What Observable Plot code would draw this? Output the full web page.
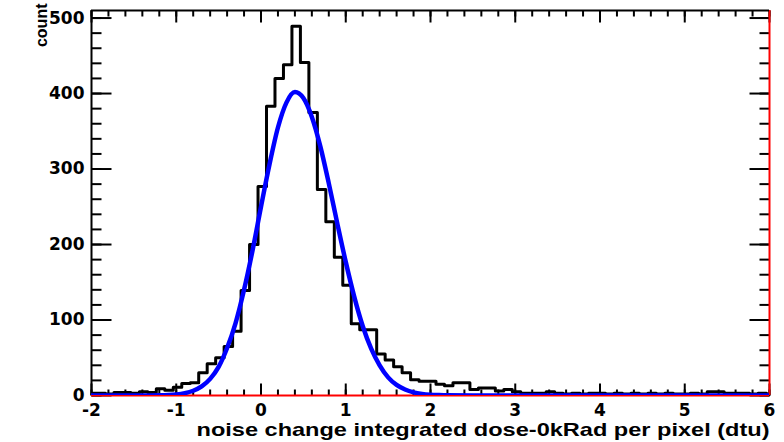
<!DOCTYPE html>
<html>
<head>
<meta charset="utf-8">
<script src="https://cdn.jsdelivr.net/npm/d3@7"></script>
<script src="https://cdn.jsdelivr.net/npm/@observablehq/plot@0.6"></script>
<style>
  html, body { margin: 0; padding: 0; background: #fff; }
  #chart { width: 784px; height: 442px; }
</style>
</head>
<body>
<div id="chart"></div>
<script>
// ---- data ----
const xDomain = [-2, 6];
const yDomain = [0, 510];
const xLabel = "noise change integrated dose-0kRad per pixel (dtu)";
const yLabel = "count";

// histogram: 81 bins of width 0.1, first lower edge at -2.035
const binStart = -2.035;
const binWidth = 0.1;
const counts = [
  3, 3, 2, 4, 4, 3, 5, 4, 9, 7,
  11, 16, 17, 30, 42, 50, 65, 85, 139, 200,
  277, 383, 420, 438, 489, 441, 375, 273, 230, 183,
  146, 95, 87, 87, 55, 47, 38, 30, 21, 19,
  19, 15, 13, 17, 17, 8, 10, 10, 6, 8,
  5, 3, 3, 3, 5, 3, 2, 3, 2, 3,
  3, 2, 3, 2, 3, 2, 3, 2, 3, 2,
  2, 3, 2, 5, 5, 3, 3, 3, 2, 3,
  2
];

// fitted curve, points
const fitX = [-2, -1.6, -1.4, -1.2, -1.1, -1.0, -0.9, -0.8, -0.7, -0.6, -0.5, -0.4, -0.3, -0.2, -0.1,
  0, 0.1, 0.2, 0.3, 0.4, 0.5, 0.6, 0.7, 0.8, 0.9, 1.0, 1.1, 1.2, 1.3, 1.4, 1.5, 1.6, 1.7, 1.8, 1.9,
  2.0, 2.1, 2.2, 2.5, 3, 4, 5, 6];
const fitY = [0, 0, 0, 0.25, 0.6, 1.4, 3.1, 6.3, 12, 22, 38, 63, 96, 140, 192,
  250, 306, 355, 388, 402, 394, 369, 330, 281, 228, 177, 131, 92, 62, 40, 24, 14, 8, 4.2, 2.1,
  1.0, 0.5, 0.2, 0, 0, 0, 0, 0];

const xMajor = [-2, -1, 0, 1, 2, 3, 4, 5, 6];
const yMajor = [0, 100, 200, 300, 400, 500];
const xMinor = d3.range(0, 41).map(i => -2 + i * 0.2);
const yMinor = d3.range(0, 26).map(i => i * 20);

// ---- layout ----
const W = 784, H = 442;
const mL = 91, mR = 15, mT = 10, mB = 47;
const fw = W - mL - mR, fh = H - mT - mB;
const xPerPx = (xDomain[1] - xDomain[0]) / fw;
const yPerPx = (yDomain[1] - yDomain[0]) / fh;

// ---- build tables ----
const histPts = [];
counts.forEach((c, i) => {
  const lo = binStart + i * binWidth;
  histPts.push({x: lo, y: c}, {x: lo + binWidth, y: c});
});
const fitPts = fitX.map((x, i) => ({x, y: fitY[i]}));

// inward tick segments (lengths in pixels converted through the scale factor)
const tickSegs = [];
const addX = (vals, len) => vals.forEach(v => {
  tickSegs.push({x1: v, x2: v, y1: yDomain[0], y2: yDomain[0] + len * yPerPx});
  tickSegs.push({x1: v, x2: v, y1: yDomain[1], y2: yDomain[1] - len * yPerPx});
});
const addY = (vals, len) => vals.forEach(v => {
  tickSegs.push({y1: v, y2: v, x1: xDomain[0], x2: xDomain[0] + len * xPerPx});
  tickSegs.push({y1: v, y2: v, x1: xDomain[1], x2: xDomain[1] - len * xPerPx});
});
addX(xMinor, 6);
addX(xMajor, 12);
addY(yMinor, 10);
addY(yMajor, 20);

const chart = Plot.plot({
  width: W,
  height: H,
  marginLeft: mL,
  marginRight: mR,
  marginTop: mT,
  marginBottom: mB,
  x: {domain: xDomain, label: null},
  y: {domain: yDomain, label: null},
  style: {fontFamily: "DejaVu Sans", fontWeight: "bold", fontSize: "17px", color: "#000", background: "#fff"},
  marks: [
    Plot.link(tickSegs, {x1: "x1", y1: "y1", x2: "x2", y2: "y2", stroke: "#000", strokeWidth: 2}),
    Plot.line(histPts, {x: "x", y: "y", stroke: "#000", strokeWidth: 3, clip: true}),
    Plot.ruleY([yDomain[0]], {stroke: "#ff0000", strokeWidth: 2}),
    Plot.ruleX([xDomain[1]], {stroke: "#ff0000", strokeWidth: 2}),
    Plot.ruleX([xDomain[0]], {stroke: "#000", strokeWidth: 2}),
    Plot.ruleY([yDomain[1]], {stroke: "#000", strokeWidth: 2}),
    Plot.line(fitPts, {x: "x", y: "y", stroke: "#0000ff", strokeWidth: 4.5, curve: "monotone-x", clip: true}),
    // tick labels
    Plot.axisX({anchor: "bottom", ticks: xMajor, tickSize: 0, tickPadding: 8, tickFormat: d => `${d}`}),
    Plot.axisY({anchor: "left", ticks: yMajor, tickSize: 0, tickPadding: 7, tickFormat: d => `${d}`}),
    // axis titles
    Plot.text([xLabel], {frameAnchor: "bottom-right", textAnchor: "end", lineAnchor: "bottom", dy: 40,
      fontFamily: "Liberation Sans", fontWeight: "bold", fontSize: 19}),
    Plot.text([yLabel], {frameAnchor: "top-left", rotate: -90, textAnchor: "end", dx: -56, dy: -7,
      fontFamily: "Liberation Sans", fontWeight: "bold", fontSize: 16})
  ]
});

d3.select(chart).selectAll("text")
  .filter(function() { return this.textContent === xLabel; })
  .attr("textLength", 573)
  .attr("lengthAdjust", "spacingAndGlyphs");

document.getElementById("chart").appendChild(chart);
</script>
</body>
</html>
